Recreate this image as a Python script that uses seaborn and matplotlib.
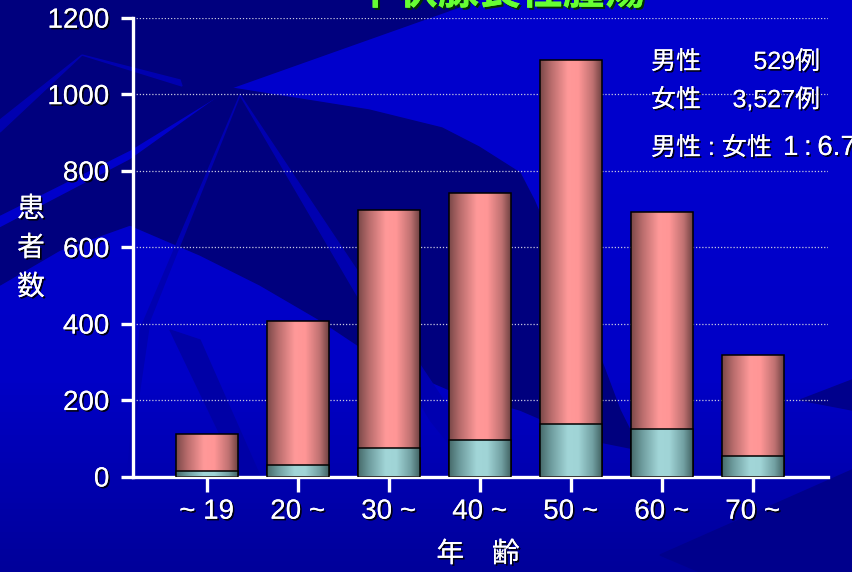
import numpy as np
import pandas as pd
import matplotlib
matplotlib.use("Agg")
import matplotlib.pyplot as plt
import matplotlib.patheffects as pe
from matplotlib.colors import LinearSegmentedColormap
from matplotlib.patches import Polygon
import seaborn as sns

# data
ages = ["~ 19", "20 ~", "30 ~", "40 ~", "50 ~", "60 ~", "70 ~"]
male = [14, 30, 75, 95, 137, 124, 54]
female = [96, 377, 622, 647, 952, 568, 265]
yticks = [0, 200, 400, 600, 800, 1000, 1200]

df = pd.DataFrame({"age": ages, "male": male, "female": female})
df["total"] = df["male"] + df["female"]

sns.set_style("white")
FONT = ["Liberation Sans", "Noto Sans CJK JP", "DejaVu Sans"]
plt.rcParams["font.family"] = FONT

W, H = 852, 572
fig = plt.figure(figsize=(W / 100, H / 100), dpi=100)
fig.patch.set_facecolor("#0000CC")

shadow = [pe.withSimplePatchShadow(offset=(1.2, -1.2), shadow_rgbFace="black", alpha=0.9), pe.Normal()]

# background decoration (dark palm-leaf shapes of the slide template)
bg = fig.add_axes([0, 0, 1, 1], zorder=-5)
bg.set_xlim(0, W)
bg.set_ylim(H, 0)
bg.axis("off")
grad = np.linspace(0, 1, 100).reshape(-1, 1)
bg.imshow(grad, cmap=LinearSegmentedColormap.from_list("b", ["#0000CC", "#0000CC", "#0000C6", "#00009A"]),
          extent=(0, W, H, 0), aspect="auto", zorder=0)
dark = "#00007E"
corner = [(0, 0), (479, 0), (231, 88), (130, 150), (0, 215)]
frond = [(231, 88), (369, 110), (442, 128), (479, 147), (520, 173), (534, 200), (560, 260), (590, 330),
         (620, 410), (640, 450), (590, 440), (520, 410), (450, 390), (380, 360), (320, 320),
         (260, 285), (200, 255), (130, 225), (60, 250), (0, 285), (0, 228), (130, 160)]
bg.add_patch(Polygon(corner, closed=True, color=dark, zorder=1))
bg.add_patch(Polygon(frond, closed=True, color=dark, zorder=1))
streaks = [
    [(240, 95), (140, 330), (128, 470), (150, 320)],
    [(240, 95), (430, 420), (470, 470), (450, 410)],
    [(82, 55), (0, 120), (0, 132)],
    [(82, 55), (180, 80), (182, 86)],
]
for s in streaks:
    bg.add_patch(Polygon(s, closed=True, color="#0000B0", zorder=2))
bg.add_patch(Polygon([(170, 330), (200, 340), (260, 476), (240, 476)], closed=True, color="#0000A6", zorder=2))
bg.add_patch(Polygon([(660, 555), (852, 470), (852, 572), (700, 572)], closed=True, color="#00008C", zorder=2))
bg.add_patch(Polygon([(800, 400), (852, 380), (852, 410)], closed=True, color="#00008C", zorder=2))

# main chart
ax = fig.add_axes([133 / W, 1 - 476.5 / H, (828 - 133) / W, (476.5 - 17.7) / H])
ax.set_facecolor("none")

pink = "#FF9999"
teal = "#A0D4D6"
sns.barplot(data=df, x="age", y="total", color=pink, width=0.68, edgecolor="black", linewidth=1.1,
            saturation=1, ax=ax)
sns.barplot(data=df, x="age", y="male", color=teal, width=0.68, edgecolor="black", linewidth=1.1,
            saturation=1, ax=ax)

cm_pink = LinearSegmentedColormap.from_list(
    "p", [(0, "#7a4848"), (0.18, "#b86c6c"), (0.45, "#ff9999"), (0.62, "#ff9696"), (0.85, "#c07272"), (1, "#704242")])
cm_teal = LinearSegmentedColormap.from_list(
    "t", [(0, "#466a6a"), (0.18, "#6e9c9e"), (0.45, "#a2d6d8"), (0.62, "#a0d4d6"), (0.85, "#72a0a2"), (1, "#426464")])

g = np.linspace(0, 1, 256).reshape(1, -1)
n = len(ages)
for i, patch in enumerate(ax.patches):
    cmap = cm_pink if i < n else cm_teal
    z = 2.0 if i < n else 3.0
    x0, y0 = patch.get_x(), patch.get_y()
    w, h = patch.get_width(), patch.get_height()
    im = ax.imshow(g, cmap=cmap, aspect="auto", extent=(x0, x0 + w, y0, y0 + h),
                   interpolation="bilinear", zorder=z)
    im.set_clip_path(patch)
    patch.set_facecolor("none")
    patch.set_zorder(z + 0.5)

ax.set_xlim(-0.81, -0.81 + 695 / 91)
ax.set_ylim(0, 1200)
ax.set_yticks(yticks)
ax.set_aspect("auto")
ax.set_axisbelow(True)
ax.yaxis.grid(True, color="#c8c8e0", linestyle=(0, (1, 1.5)), linewidth=0.9)
ax.xaxis.grid(False)

for side in ["top", "right"]:
    ax.spines[side].set_visible(False)
for side in ["left", "bottom"]:
    ax.spines[side].set_color("white")
    ax.spines[side].set_linewidth(2.4)

ax.tick_params(axis="y", colors="white", length=9, width=2.4, pad=8, labelsize=20, left=True)
ax.tick_params(axis="x", colors="white", length=11, width=2.4, pad=5, labelsize=20, bottom=True)
for lbl in ax.get_xticklabels() + ax.get_yticklabels():
    lbl.set_path_effects(shadow)
ax.set_xlabel("")
ax.set_ylabel("")

# axis titles
for ch, yc in zip("患者数", [210, 249, 288]):
    fig.text(31 / W, 1 - yc / H, ch, color="white", fontsize=20, ha="center", va="center",
             family=FONT, path_effects=shadow)
fig.text(478 / W, 1 - 555 / H, "年　齢", color="white", fontsize=20, ha="center", va="center",
         family=FONT, path_effects=shadow)

# title, cut off at the top of the slide as in the original
fig.text(500 / W, 1 - 13 / H, "甲状腺良性腫瘍", color="#66FF33", fontsize=30, fontweight="bold",
         ha="center", va="bottom", family=["Noto Sans CJK JP", "DejaVu Sans"],
         path_effects=[pe.withSimplePatchShadow(offset=(1.5, -1.5), shadow_rgbFace="#003300", alpha=1), pe.Normal()])

# case counts
note = dict(color="white", fontsize=18, va="center", family=FONT, path_effects=shadow)
fig.text(651 / W, 1 - 62 / H, "男性", ha="left", **note)
fig.text(820 / W, 1 - 62 / H, "529例", ha="right", **note)
fig.text(651 / W, 1 - 100 / H, "女性", ha="left", **note)
fig.text(820 / W, 1 - 100 / H, "3,527例", ha="right", **note)
fig.text(651 / W, 1 - 148 / H, "男性 : 女性", ha="left", **note)
fig.text(783 / W, 1 - 148 / H, "1\u2009:\u20096.7", ha="left", **dict(note, fontsize=20))

fig.savefig("out.png", dpi=100, facecolor=fig.get_facecolor())
